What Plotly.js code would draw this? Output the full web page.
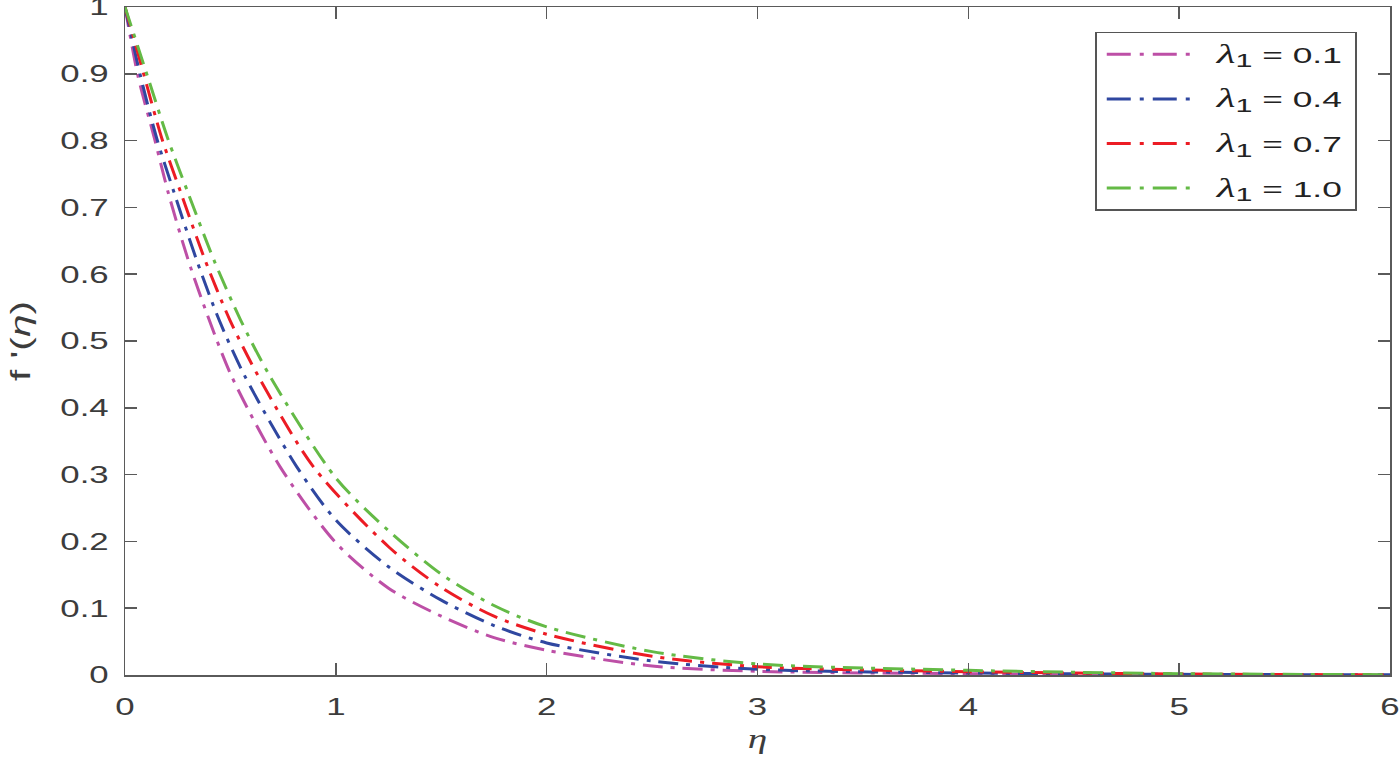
<!DOCTYPE html>
<html>
<head>
<meta charset="utf-8">
<script src="https://cdn.plot.ly/plotly-3.0.1.min.js"></script>
<style>html,body{margin:0;padding:0;background:#fff;}#chart{width:1400px;height:759px;}</style>
</head>
<body>
<div id="chart"></div>
<script>
// Values
const lambdaLabel = "<span style='font-family:Liberation Serif,serif;font-style:italic;font-size:27px'>λ</span><sub><span style='font-size:19px'>1</span></sub>";
const lambdaValues = ["0.1", "0.4", "0.7", "1.0"];

const eta01 = [0, 0.062, 0.139, 0.206, 0.300, 0.400, 0.506, 0.735, 1.0, 1.25, 1.5, 1.75, 2.0, 2.5, 3.0, 4.0, 5.0, 6.0];
const f01   = [1, 0.896, 0.804, 0.721, 0.621, 0.531, 0.447, 0.312, 0.198, 0.130, 0.088, 0.056, 0.037, 0.0135, 0.0055, 0.002, 0.0005, 0.0001];

const eta04 = [0, 0.074, 0.150, 0.234, 0.340, 0.447, 0.569, 0.814, 1.0, 1.25, 1.5, 1.75, 2.0, 2.5, 3.0, 4.0, 5.0, 6.0];
const f04   = [1, 0.896, 0.804, 0.721, 0.621, 0.531, 0.447, 0.312, 0.232, 0.162, 0.112, 0.074, 0.048, 0.021, 0.0085, 0.003, 0.001, 0.0002];

const eta07 = [0, 0.092, 0.174, 0.266, 0.380, 0.498, 0.633, 0.893, 1.25, 1.5, 1.75, 2.0, 2.5, 3.0, 4.0, 5.0, 6.0];
const f07   = [1, 0.896, 0.804, 0.721, 0.621, 0.531, 0.447, 0.312, 0.192, 0.131, 0.088, 0.061, 0.028, 0.0125, 0.005, 0.0015, 0.0003];

const eta10 = [0, 0.107, 0.202, 0.300, 0.422, 0.549, 0.688, 1.0, 1.25, 1.5, 1.75, 2.0, 2.5, 3.0, 4.0, 5.0, 6.0];
const f10   = [1, 0.896, 0.804, 0.721, 0.621, 0.531, 0.447, 0.295, 0.216, 0.151, 0.104, 0.072, 0.035, 0.0165, 0.007, 0.002, 0.0005];

const xTicks = [0, 1, 2, 3, 4, 5, 6];
const yTicks = [0, 0.1, 0.2, 0.3, 0.4, 0.5, 0.6, 0.7, 0.8, 0.9, 1];

const colors = ["#BD4FA6", "#2F47A0", "#EC1C24", "#64BA46"];
const xs = [eta01, eta04, eta07, eta10];
const ys = [f01, f04, f07, f10];

const traces = xs.map((x, i) => ({
  x: x, y: ys[i], type: "scatter", mode: "lines",
  name: lambdaLabel + " = " + lambdaValues[i],
  legendgroup: "g" + i,
  line: {color: colors[i], width: 3, dash: "20px,8px,4px,8px", shape: "spline", smoothing: 0.8}
}));

const axisCommon = {
  showgrid: false, zeroline: false, showline: true, linecolor: "#5a5a5a", linewidth: 1.5,
  mirror: "ticks", ticks: "inside", ticklen: 12, tickwidth: 1.5, tickcolor: "#5a5a5a",
  ticklabeloverflow: "allow",
  tickfont: {family: "Liberation Sans, Arial, sans-serif", size: 24, color: "#3c3c3c"}
};

const layout = {
  width: 1400, height: 759,
  margin: {l: 125, r: 10, t: 7, b: 84},
  paper_bgcolor: "#fff", plot_bgcolor: "#fff",
  showlegend: true,
  xaxis: Object.assign({}, axisCommon, {
    range: [0, 6], tickvals: xTicks, ticktext: xTicks.map(String), ticklabelstandoff: 10,
    title: {text: "<i>η</i>", font: {family: "Liberation Serif, Times New Roman, serif", size: 28, color: "#3c3c3c"}, standoff: 9}
  }),
  yaxis: Object.assign({}, axisCommon, {
    range: [0, 1], tickvals: yTicks, ticktext: yTicks.map(String), ticklabelstandoff: 10,
    title: {text: "f '(<i>η</i>)", font: {family: "Liberation Sans, Arial, sans-serif", size: 28, color: "#3c3c3c"}, standoff: 36}
  }),
  legend: {
    x: 0.767, y: 0.9626, xanchor: "left", yanchor: "top",
    bgcolor: "#fff", bordercolor: "#555", borderwidth: 1.5,
    font: {family: "Liberation Sans, Arial, sans-serif", size: 22, color: "#222"},
    itemwidth: 110, tracegroupgap: 13, valign: "middle"
  }
};

function stretchText(el, target) {
  el.setAttribute("textLength", target);
  el.setAttribute("lengthAdjust", "spacingAndGlyphs");
}

Plotly.newPlot("chart", traces, layout, {displayModeBar: false, staticPlot: true}).then(() => {
  const root = document.getElementById("chart");
  root.querySelectorAll(".xtick text, .ytick text").forEach(t => {
    stretchText(t, t.getComputedTextLength() * 1.45);
  });
  const xt = root.querySelector(".xtitle");
  if (xt) stretchText(xt, xt.getComputedTextLength() * 1.4);
  const yt = root.querySelector(".ytitle");
  if (yt) stretchText(yt, 80);
  root.querySelectorAll(".legendtext").forEach(t => stretchText(t, 125));
  root.querySelectorAll(".legend .legendlines path").forEach(p => {
    p.setAttribute("d", "M10,0h85");
    p.style.strokeDasharray = "24px,9px,4px,9px";
  });
  const bg = root.querySelector(".legend rect.bg");
  if (bg) bg.setAttribute("width", 260);
  document.querySelectorAll("clipPath[id^='legend'] rect").forEach(r => r.setAttribute("width", 262));
});
</script>
</body>
</html>
